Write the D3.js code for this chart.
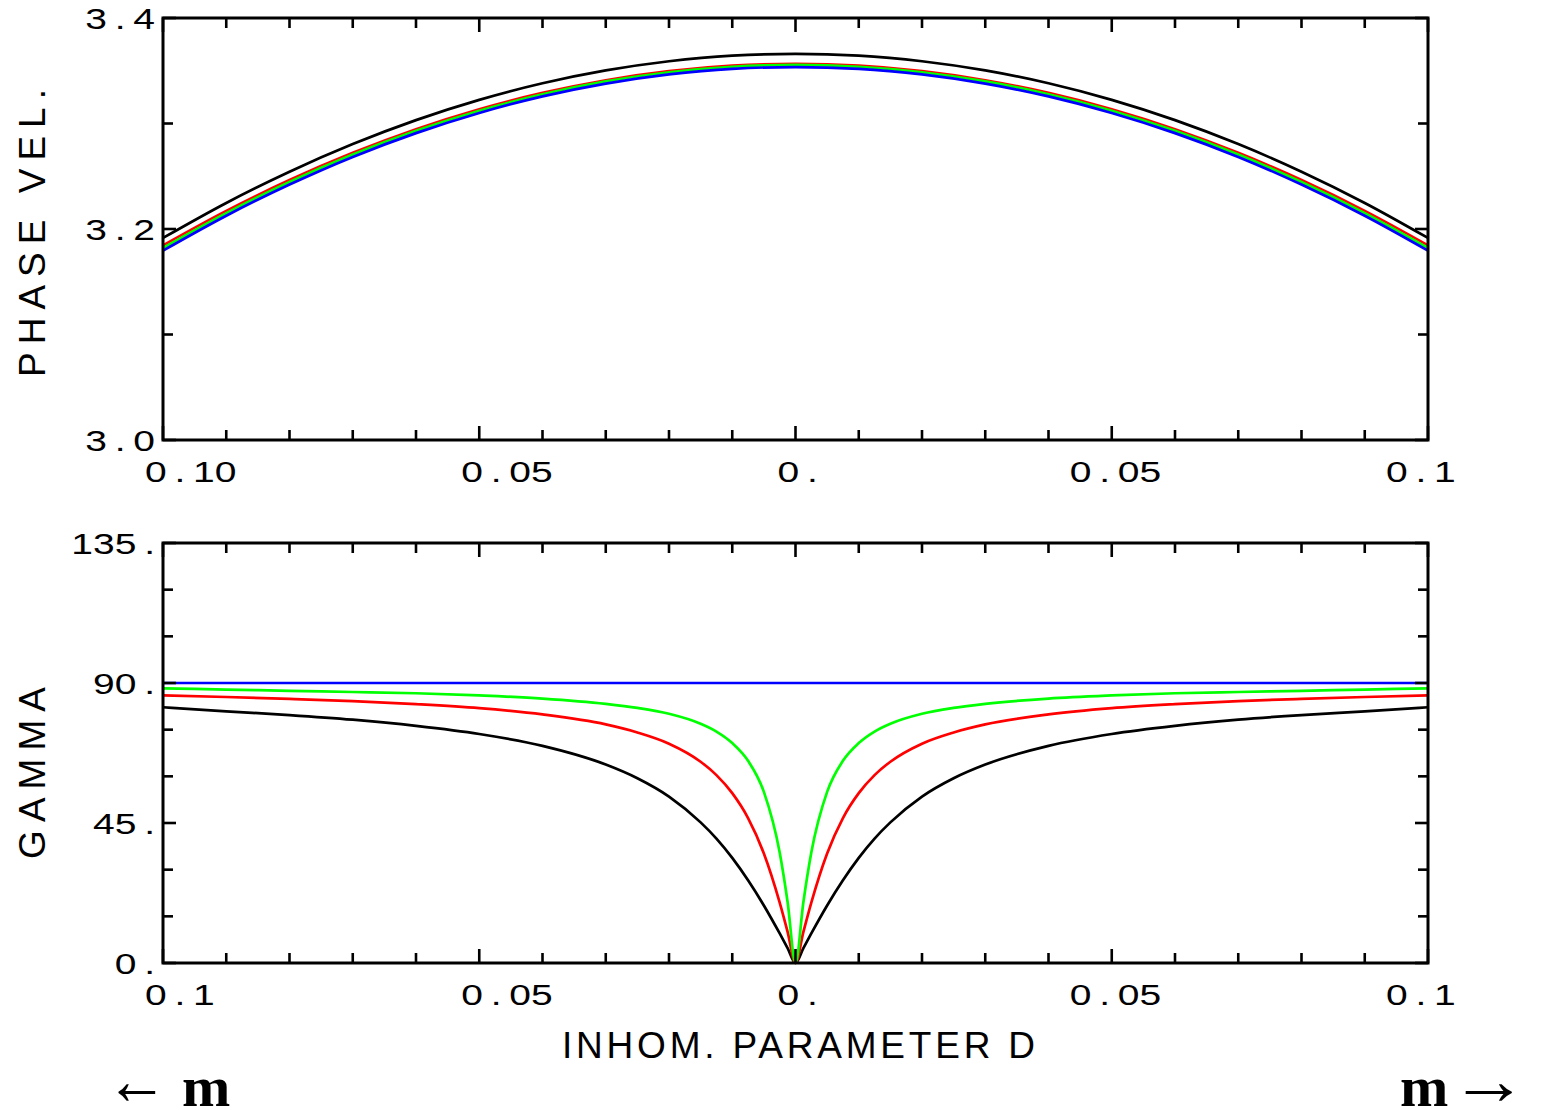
<!DOCTYPE html>
<html>
<head>
<meta charset="utf-8">
<script src="https://cdn.jsdelivr.net/npm/d3@7"></script>
<style>body{margin:0;background:#fff}</style>
</head>
<body>
<script>
// phase velocity vs inhomogeneity parameter D (top panel)
const dTop = [-0.10,-0.09,-0.08,-0.07,-0.06,-0.05,-0.04,-0.03,-0.02,-0.01,0,
               0.01,0.02,0.03,0.04,0.05,0.06,0.07,0.08,0.09,0.10];
const velBlack = [3.1915,3.2247,3.2543,3.2805,3.3032,3.3224,3.3381,3.3503,3.3590,3.3643,3.3660,
                  3.3643,3.3590,3.3503,3.3381,3.3224,3.3032,3.2805,3.2543,3.2247,3.1915];
const velRed   = [3.1845,3.2172,3.2464,3.2722,3.2946,3.3135,3.3290,3.3410,3.3496,3.3548,3.3565,
                  3.3548,3.3496,3.3410,3.3290,3.3135,3.2946,3.2722,3.2464,3.2172,3.1845];
const velGreen = [3.1820,3.2150,3.2445,3.2705,3.2930,3.3121,3.3277,3.3399,3.3486,3.3538,3.3555,
                  3.3538,3.3486,3.3399,3.3277,3.3121,3.2930,3.2705,3.2445,3.2150,3.1820];
const velBlue  = [3.1795,3.2126,3.2421,3.2683,3.2909,3.3100,3.3257,3.3378,3.3465,3.3518,3.3535,
                  3.3518,3.3465,3.3378,3.3257,3.3100,3.2909,3.2683,3.2421,3.2126,3.1795];

// gamma vs D (bottom panel)
const dBot = [-0.1,-0.09,-0.08,-0.07,-0.06,-0.05,-0.04,-0.03,-0.025,-0.02,-0.015,-0.0125,-0.01,-0.0075,-0.005,-0.0025,-0.00125,0,
              0.00125,0.0025,0.005,0.0075,0.01,0.0125,0.015,0.02,0.025,0.03,0.04,0.05,0.06,0.07,0.08,0.09,0.1];
const gamBlack = [82.2,80.9,79.7,78.2,76.2,73.6,69.8,63.8,59.4,53.5,45.2,40.0,33.8,26.6,18.5,9.5,4.8,0,
                  4.8,9.5,18.5,26.6,33.8,40.0,45.2,53.5,59.4,63.8,69.8,73.6,76.2,78.2,79.7,80.9,82.2];
const gamRed   = [86.0,85.5,84.9,84.2,83.2,81.9,79.9,76.7,74.1,70.5,64.7,60.4,54.6,46.6,35.2,19.4,10.0,0,
                  10.0,19.4,35.2,46.6,54.6,60.4,64.7,70.5,74.1,76.7,79.9,81.9,83.2,84.2,84.9,85.5,86.0];
const gamGreen = [88.3,87.9,87.5,87.1,86.7,86.0,85.0,83.3,82.0,80.1,76.9,74.4,70.7,65.0,55.0,35.5,19.6,0,
                  19.6,35.5,55.0,65.0,70.7,74.4,76.9,80.1,82.0,83.3,85.0,86.0,86.7,87.1,87.5,87.9,88.3];
const gamBlue  = [90,90,90,90,90,90,90,90,90,90,90,90,90,90,90,90,90,90,
                  90,90,90,90,90,90,90,90,90,90,90,90,90,90,90,90,90];

// tick labels
const xLabelsTop = ["0.10","0.05","0.","0.05","0.1"];
const xLabelsBot = ["0.1","0.05","0.","0.05","0.1"];
const yLabelsTop = ["3.0","3.2","3.4"];
const yLabelsBot = ["0.","45.","90.","135."];

const W = 1541, H = 1110;
const FONT = "'Liberation Sans', Arial, Helvetica, sans-serif";

const svg = d3.select("body").append("svg")
    .attr("width", W).attr("height", H);
svg.append("rect").attr("width", W).attr("height", H).attr("fill", "#fff");

const x = d3.scaleLinear().domain([-0.1, 0.1]).range([163, 1428]);
const yTop = d3.scaleLinear().domain([3.0, 3.4]).range([440, 18]);
const yBot = d3.scaleLinear().domain([0, 135]).range([963, 543]);

function numLabel(g, px, py, anchor, s) {
  const [ip, fp] = s.split(".");
  const t = g.append("text")
      .attr("transform", `translate(${px},${py}) scale(1.3,1)`)
      .attr("text-anchor", anchor)
      .attr("font-family", FONT)
      .attr("font-size", 30)
      .attr("fill", "#000");
  t.append("tspan").text(ip);
  t.append("tspan").attr("dx", 6).text(".");
  if (fp) t.append("tspan").attr("dx", 6).text(fp);
}

function panel(y, yTicks, yMajor, yLabels, xLabels, series) {
  const g = svg.append("g");
  const [y0, y1] = y.range();   // bottom, top
  const line = d3.line()
      .x(d => x(d[0]))
      .y(d => y(d[1]))
      .curve(d3.curveMonotoneX);

  series.forEach(s => {
    g.append("path")
      .datum(s.d.map((v, i) => [s.xs[i], v]))
      .attr("d", line)
      .attr("fill", "none")
      .attr("stroke", s.color)
      .attr("stroke-width", 2.7);
  });

  // x ticks, top and bottom edges
  const xt = d3.range(-10, 11).map(i => i / 100);
  xt.forEach(v => {
    const major = Math.abs(Math.round(v * 100)) % 5 === 0;
    const len = major ? 14 : 10;
    g.append("line").attr("x1", x(v)).attr("x2", x(v)).attr("y1", y0).attr("y2", y0 - len)
      .attr("stroke", "#000").attr("stroke-width", 2.6);
    g.append("line").attr("x1", x(v)).attr("x2", x(v)).attr("y1", y1).attr("y2", y1 + len)
      .attr("stroke", "#000").attr("stroke-width", 2.6);
  });
  // y ticks, left and right edges
  yTicks.forEach(v => {
    const len = yMajor(v) ? 13 : 10;
    g.append("line").attr("x1", x(-0.1)).attr("x2", x(-0.1) + len).attr("y1", y(v)).attr("y2", y(v))
      .attr("stroke", "#000").attr("stroke-width", 2.6);
    g.append("line").attr("x1", x(0.1)).attr("x2", x(0.1) - len).attr("y1", y(v)).attr("y2", y(v))
      .attr("stroke", "#000").attr("stroke-width", 2.6);
  });

  // frame
  g.append("rect")
    .attr("x", x(-0.1)).attr("y", y1)
    .attr("width", x(0.1) - x(-0.1)).attr("height", y0 - y1)
    .attr("fill", "none").attr("stroke", "#000").attr("stroke-width", 3);

  // labels
  yLabels.forEach((s, i) => numLabel(g, 155, y(yTicks.filter(yMajor)[i]) + 11, "end", s));
  [-0.1, -0.05, 0, 0.05, 0.1].forEach((v, i) => {
    numLabel(g, x(v) + (v > 0 ? -42 : -18), y0 + 42, "start", xLabels[i]);
  });
  return g;
}

panel(yTop, d3.range(0, 5).map(i => 3.0 + i * 0.1), v => Math.round(v * 10) % 2 === 0,
      yLabelsTop, xLabelsTop, [
        {xs: dTop, d: velBlack, color: "#000"},
        {xs: dTop, d: velRed, color: "#ff0000"},
        {xs: dTop, d: velGreen, color: "#00ff00"},
        {xs: dTop, d: velBlue, color: "#0000ff"}
      ]);

panel(yBot, d3.range(0, 136, 15), v => v % 45 === 0,
      yLabelsBot, xLabelsBot, [
        {xs: dBot, d: gamBlack, color: "#000"},
        {xs: dBot, d: gamRed, color: "#ff0000"},
        {xs: dBot, d: gamGreen, color: "#00ff00"},
        {xs: dBot, d: gamBlue, color: "#0000ff"}
      ]);

// axis titles
svg.append("text")
  .attr("transform", "translate(45,229) rotate(-90)")
  .attr("text-anchor", "middle")
  .attr("font-family", FONT).attr("font-size", 37).attr("letter-spacing", 8)
  .text("PHASE VEL.");

svg.append("text")
  .attr("transform", "translate(45,769) rotate(-90)")
  .attr("text-anchor", "middle")
  .attr("font-family", FONT).attr("font-size", 37).attr("letter-spacing", 8)
  .text("GAMMA");

svg.append("text")
  .attr("x", 562).attr("y", 1058)
  .attr("font-family", FONT).attr("font-size", 37).attr("letter-spacing", 3.8)
  .text("INHOM. PARAMETER D");

// direction hints under the plot
const SERIF = "'Liberation Serif', 'DejaVu Serif', serif";
svg.append("text").attr("x", 106).attr("y", 1104)
  .attr("font-family", SERIF).attr("font-size", 70)
  .attr("textLength", 62).attr("lengthAdjust", "spacingAndGlyphs")
  .text("\u2190");
svg.append("text").attr("x", 182).attr("y", 1106)
  .attr("font-family", SERIF).attr("font-size", 58).attr("font-weight", "bold")
  .text("m");
svg.append("text").attr("x", 1400).attr("y", 1106)
  .attr("font-family", SERIF).attr("font-size", 58).attr("font-weight", "bold")
  .text("m");
svg.append("text").attr("x", 1450).attr("y", 1104)
  .attr("font-family", SERIF).attr("font-size", 70)
  .attr("textLength", 78).attr("lengthAdjust", "spacingAndGlyphs")
  .text("\u2192");
</script>
</body>
</html>
